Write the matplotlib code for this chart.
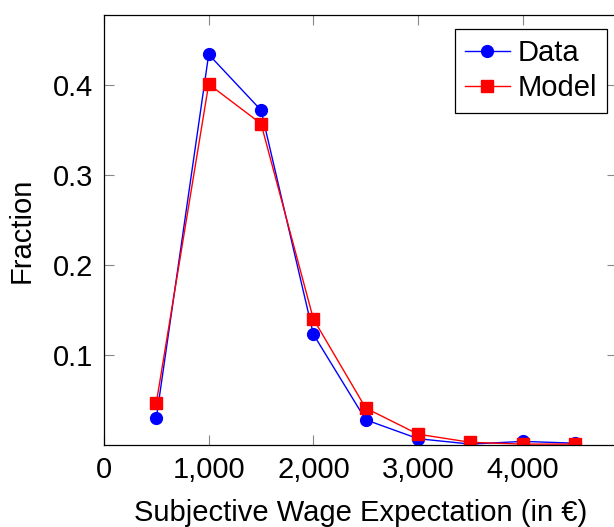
import matplotlib
matplotlib.use("Agg")
from matplotlib import pyplot as plt
from matplotlib.ticker import FuncFormatter

# wage expectation bins (euro)
wage = [500, 1000, 1500, 2000, 2500, 3000, 3500, 4000, 4500]
data_frac = [0.030, 0.434, 0.372, 0.123, 0.028, 0.007, 0.001, 0.004, 0.002]
model_frac = [0.047, 0.401, 0.357, 0.140, 0.041, 0.012, 0.003, 0.001, 0.001]

x_ticks = [0, 1000, 2000, 3000, 4000]
y_ticks = [0.1, 0.2, 0.3, 0.4]

plt.rcParams['font.family'] = ['Liberation Sans', 'DejaVu Sans']
plt.rcParams['font.size'] = 21

fig = plt.figure(figsize=(6.14, 5.27), dpi=100)
ax = fig.add_axes([104 / 614, 1 - 445 / 527, (617 - 104) / 614, (445 - 15) / 527])

ax.plot(wage, data_frac, color="#0000ff", lw=1.0, marker="o", markersize=8.5,
        label="Data")
ax.plot(wage, model_frac, color="#ff0000", lw=1.0, marker="s", markersize=8,
        label="Model")

ax.set_xlim(0, 4900)
ax.set_ylim(0, 0.4778)
ax.set_xticks(x_ticks)
ax.set_yticks(y_ticks)
ax.xaxis.set_major_formatter(FuncFormatter(lambda v, p: f"{int(v):,}"))
ax.tick_params(direction="in", length=7, width=0.8, color="#888888",
               top=True, right=True, labelsize=21, pad=8)
for s in ax.spines.values():
    s.set_linewidth(0.9)
    s.set_color("black")

ax.set_xlabel("Subjective Wage Expectation (in €)", fontsize=21, labelpad=11)
ax.set_ylabel("Fraction", fontsize=21, labelpad=12)

leg = ax.legend(loc="upper right", bbox_to_anchor=(607 / 614, 1 - 29 / 527),
                bbox_transform=fig.transFigure, fontsize=21, fancybox=False,
                framealpha=1, edgecolor="black", handlelength=1.55,
                handletextpad=0.25, borderpad=0.35, labelspacing=0.25,
                borderaxespad=0)
leg.get_frame().set_linewidth(0.9)

fig.savefig("out.png", dpi=100)
